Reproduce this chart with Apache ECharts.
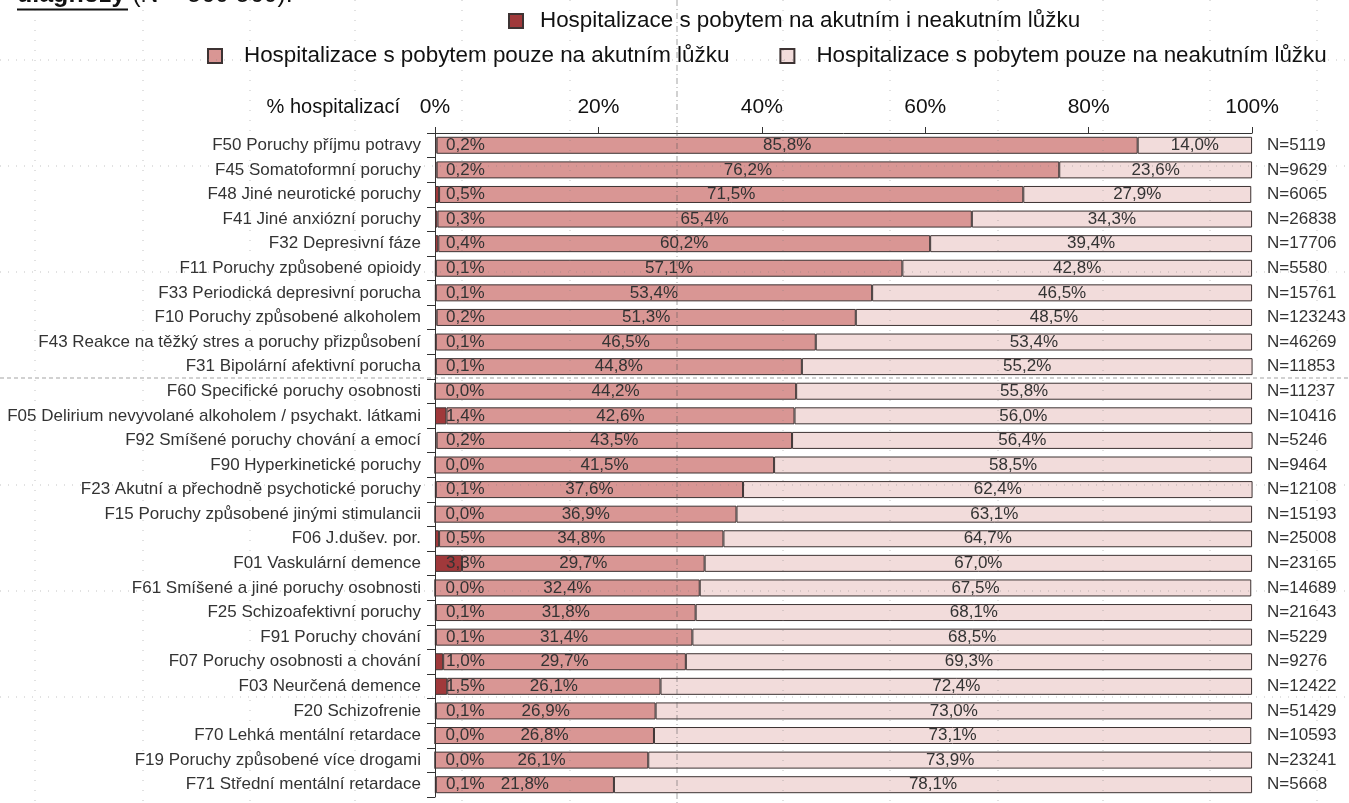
<!DOCTYPE html>
<html><head><meta charset="utf-8">
<script src="https://cdn.jsdelivr.net/npm/echarts@6/dist/echarts.min.js"></script>
<style>html,body{margin:0;padding:0;background:#fff}#c{width:1349px;height:803px}</style>
</head><body><div id="c"></div>
<script>
const categories = [
  'F50 Poruchy příjmu potravy',
  'F45 Somatoformní poruchy',
  'F48 Jiné neurotické poruchy',
  'F41 Jiné anxiózní poruchy',
  'F32 Depresivní fáze',
  'F11 Poruchy způsobené opioidy',
  'F33 Periodická depresivní porucha',
  'F10 Poruchy způsobené alkoholem',
  'F43 Reakce na těžký stres a poruchy přizpůsobení',
  'F31 Bipolární afektivní porucha',
  'F60 Specifické poruchy osobnosti',
  'F05 Delirium nevyvolané alkoholem / psychakt. látkami',
  'F92 Smíšené poruchy chování a emocí',
  'F90 Hyperkinetické poruchy',
  'F23 Akutní a přechodně psychotické poruchy',
  'F15 Poruchy způsobené jinými stimulancii',
  'F06 J.dušev. por.',
  'F01 Vaskulární demence',
  'F61 Smíšené a jiné poruchy osobnosti',
  'F25 Schizoafektivní poruchy',
  'F91 Poruchy chování',
  'F07 Poruchy osobnosti a chování',
  'F03 Neurčená demence',
  'F20 Schizofrenie',
  'F70 Lehká mentální retardace',
  'F19 Poruchy způsobené více drogami',
  'F71 Střední mentální retardace'
];
const bothBeds = [0.2,0.2,0.5,0.3,0.4,0.1,0.1,0.2,0.1,0.1,0.0,1.4,0.2,0.0,0.1,0.0,0.5,3.3,0.0,0.1,0.1,1.0,1.5,0.1,0.0,0.0,0.1];
const acuteOnly = [85.8,76.2,71.5,65.4,60.2,57.1,53.4,51.3,46.5,44.8,44.2,42.6,43.5,41.5,37.6,36.9,34.8,29.7,32.4,31.8,31.4,29.7,26.1,26.9,26.8,26.1,21.8];
const nonAcuteOnly = [14.0,23.6,27.9,34.3,39.4,42.8,46.5,48.5,53.4,55.2,55.8,56.0,56.4,58.5,62.4,63.1,64.7,67.0,67.5,68.1,68.5,69.3,72.4,73.0,73.1,73.9,78.1];
const nCounts = [5119,9629,6065,26838,17706,5580,15761,123243,46269,11853,11237,10416,5246,9464,12108,15193,25008,23165,14689,21643,5229,9276,12422,51429,10593,23241,5668];
const seriesNames = [
  'Hospitalizace s pobytem na akutním i neakutním lůžku',
  'Hospitalizace s pobytem pouze na akutním lůžku',
  'Hospitalizace s pobytem pouze na neakutním lůžku'
];
const axisName = '% hospitalizací';
const titleText = '(N = 560 560).';
const titleBold = 'diagnózy';

const FONT = "'Liberation Sans', Arial, sans-serif";
const pct = v => v.toFixed(1).replace('.', ',') + '%';
const nLabels = nCounts.map(n => 'N=' + n);

// decorative background sheet grid (page dotted lines)
const sheetX = [35,143,250,355,462,570,677,783,890,998,1103,1210,1317];
const sheetY = [60,166,272,378,485,591,697];
const graphics = [];
sheetX.forEach(x => graphics.push({type:'line', z:100, silent:true,
  shape:{x1:x,y1:0,x2:x,y2:803},
  style:{stroke: x===677?'rgba(90,90,90,0.55)':'rgba(120,120,120,0.45)', lineWidth:1, lineDash: x===677?[6,3,1,3]:[1,9]}}));
sheetY.forEach(y => graphics.push({type:'line', z:100, silent:true,
  shape:{x1:0,y1:y,x2:1349,y2:y},
  style:{stroke: y===378?'rgba(90,90,90,0.55)':'rgba(120,120,120,0.45)', lineWidth:1, lineDash: y===378?[4,3]:[1,7]}}));
graphics.push({type:'text', left:17, top:-17, silent:true,
  style:{text:'{b|' + titleBold + '} ' + titleText, fontSize:25, fontFamily:FONT, fill:'#111',
    rich:{b:{fontWeight:'bold', fontSize:25, fontFamily:FONT, fill:'#111'}}}});
graphics.push({type:'line', silent:true, shape:{x1:17,y1:9.5,x2:128,y2:9.5}, style:{stroke:'#111', lineWidth:2}});
graphics.push({type:'text', silent:true, x:400, y:107,
  style:{text:axisName, fontSize:20, fontFamily:FONT, fill:'#111', align:'right', verticalAlign:'middle'}});

const borderCol = '#3d3333';
const labelBase = {show:true, fontSize:17, fontFamily:FONT, color:'#333', formatter: p => pct(p.value)};

const chart = echarts.init(document.getElementById('c'), null, {renderer:'canvas'});
chart.setOption({
  backgroundColor:'#ffffff',
  animation:false,
  textStyle:{fontFamily:FONT},
  legend:[
    {data:[seriesNames[0]], left:503, top:5, itemWidth:14, itemHeight:14, icon:'rect',
     textStyle:{fontSize:22.4, color:'#111', fontFamily:FONT, padding:[0,0,0,12]}},
    {data:[seriesNames[1], seriesNames[2]], left:202, top:40, itemWidth:14, itemHeight:14, icon:'rect', itemGap:50,
     textStyle:{fontSize:22.4, color:'#111', fontFamily:FONT, padding:[0,0,0,17]}}
  ],
  grid:{left:435, right:96, top:133, bottom:6, containLabel:false},
  xAxis:{type:'value', position:'top', min:0, max:100, interval:20,
    axisLine:{show:true, lineStyle:{color:'#333', width:1}},
    axisTick:{show:true, length:6, lineStyle:{color:'#333'}},
    axisLabel:{formatter:'{value}%', fontSize:21, color:'#111', margin:15, fontFamily:FONT},
    splitLine:{show:false}},
  yAxis:[
    {type:'category', inverse:true, data:categories,
     axisLine:{show:true, lineStyle:{color:'#333', width:1}},
     axisTick:{show:true, length:8, lineStyle:{color:'#333'}},
     axisLabel:{fontSize:17, color:'#333', margin:14, fontFamily:FONT}},
    {type:'category', inverse:true, data:nLabels, position:'right',
     axisLine:{show:false}, axisTick:{show:false},
     axisLabel:{fontSize:17, color:'#333', margin:15, fontFamily:FONT}}
  ],
  series:[
    {name:seriesNames[0], type:'bar', stack:'s', barWidth:17, data:bothBeds,
     itemStyle:{color:'#A0393B', borderColor:borderCol, borderWidth:1},
     label:Object.assign({}, labelBase, {position:[11,'50%'], align:'left', verticalAlign:'middle'})},
    {name:seriesNames[1], type:'bar', stack:'s', barWidth:17, data:acuteOnly,
     itemStyle:{color:'#D99694', borderColor:borderCol, borderWidth:1},
     label:Object.assign({}, labelBase, {position:'inside'})},
    {name:seriesNames[2], type:'bar', stack:'s', barWidth:17, data:nonAcuteOnly,
     itemStyle:{color:'#F2DCDB', borderColor:borderCol, borderWidth:1},
     label:Object.assign({}, labelBase, {position:'inside'})}
  ],
  graphic: graphics
});
</script></body></html>
